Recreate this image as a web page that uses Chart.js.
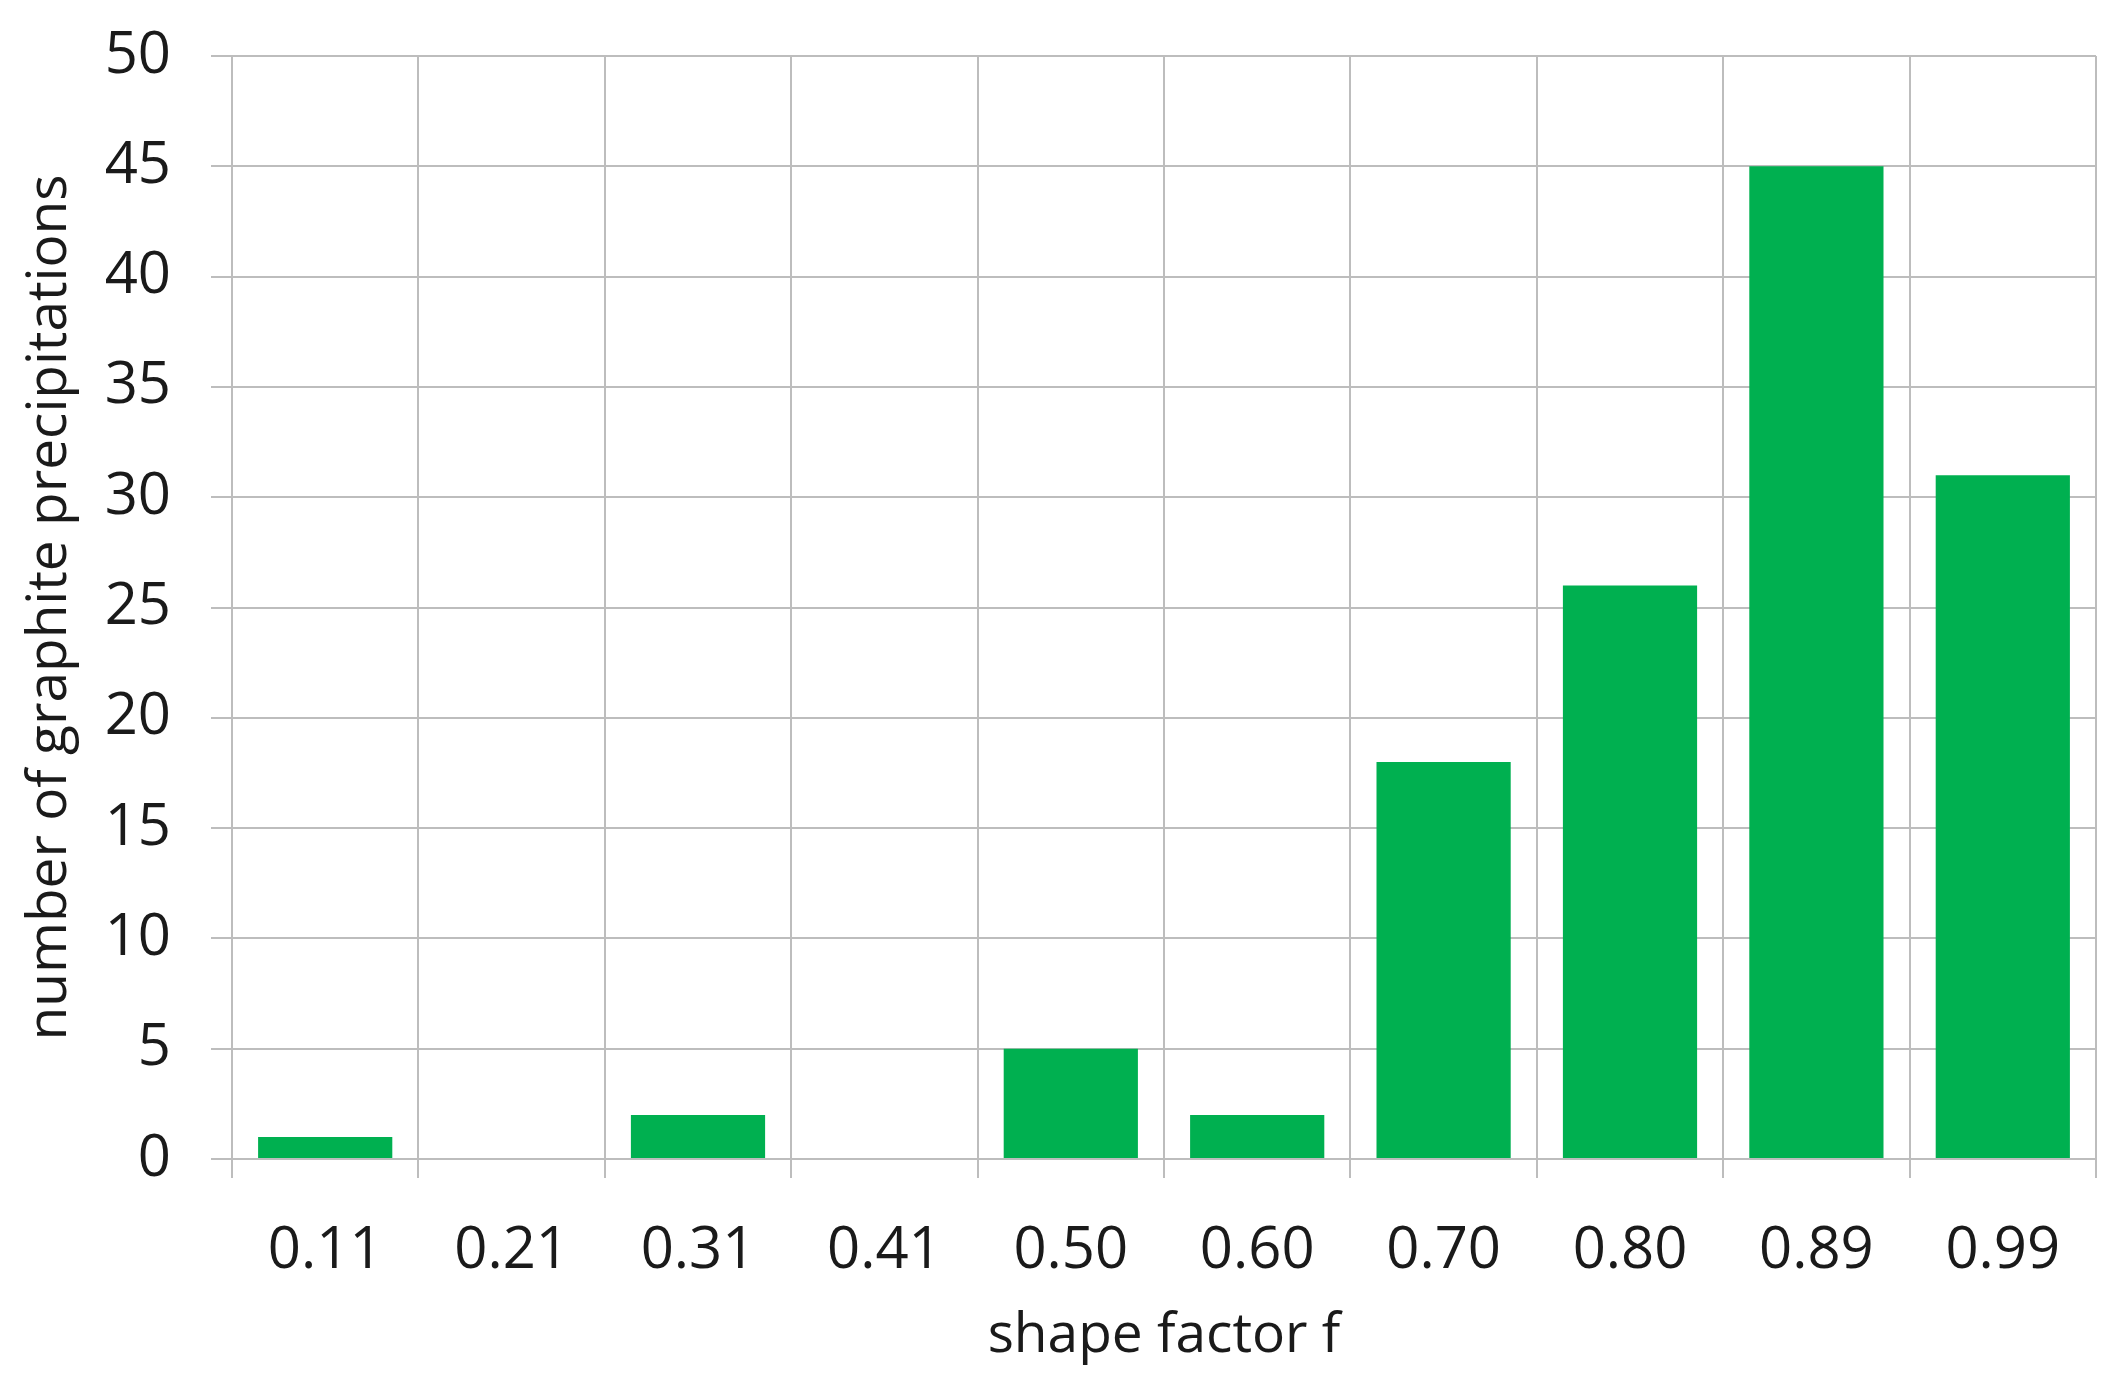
<!DOCTYPE html>
<html>
<head>
<meta charset="utf-8">
<script src="https://cdn.jsdelivr.net/npm/chart.js@4"></script>
<style>
  html, body { margin: 0; padding: 0; background: #ffffff; }
  canvas { display: block; }
</style>
</head>
<body>
<canvas id="shapeChart" width="2120" height="1386"></canvas>
<script>
const shapeFactors = ['0.11', '0.21', '0.31', '0.41', '0.50', '0.60', '0.70', '0.80', '0.89', '0.99'];
const precipitationCounts = [1, 0, 2, 0, 5, 2, 18, 26, 45, 31];
const yMin = 0;
const yMax = 50;
const yStep = 5;

const barGreen = '#00B050';
const gridGrey = '#bdbdbd';
const textColor = '#1a1a1a';
const fontFamily = '"Open Sans", "DejaVu Sans", sans-serif';

const ctx = document.getElementById('shapeChart').getContext('2d');
new Chart(ctx, {
    type: 'bar',
    data: {
        labels: shapeFactors,
        datasets: [{
            label: 'number of graphite precipitations',
            data: precipitationCounts,
            backgroundColor: barGreen,
            borderWidth: 0,
            categoryPercentage: 1.0,
            barPercentage: 0.72
        }]
    },
    options: {
        responsive: false,
        animation: false,
        layout: { padding: { top: 56, right: 24, bottom: 0, left: 0 } },
        plugins: {
            legend: { display: false },
            tooltip: { enabled: false }
        },
        scales: {
            x: {
                grid: { color: gridGrey, lineWidth: 2, tickLength: 19, offset: true },
                border: { color: gridGrey, width: 2 },
                ticks: {
                    color: textColor,
                    padding: 39,
                    font: { family: fontFamily, size: 58 },
                    maxRotation: 0
                },
                title: {
                    display: true,
                    text: 'shape factor f',
                    color: textColor,
                    font: { family: fontFamily, size: 55 },
                    padding: { top: 0, bottom: 17 }
                },
                afterFit: function(scale) {
                    scale.height = 1386 - 1159;
                    scale.paddingLeft = 0;
                    scale.paddingRight = 0;
                }
            },
            y: {
                min: yMin,
                max: yMax,
                grid: { color: gridGrey, lineWidth: 2, tickLength: 21 },
                border: { color: gridGrey, width: 2 },
                ticks: {
                    stepSize: yStep,
                    color: textColor,
                    padding: 40,
                    font: { family: fontFamily, size: 58 }
                },
                title: {
                    display: true,
                    text: 'number of graphite precipitations',
                    color: textColor,
                    font: { family: fontFamily, size: 55 },
                    padding: { top: 17, bottom: 0 }
                },
                afterFit: function(scale) {
                    scale.width = 232;
                    scale.paddingTop = 0;
                    scale.paddingBottom = 0;
                }
            }
        }
    }
});
</script>
</body>
</html>
